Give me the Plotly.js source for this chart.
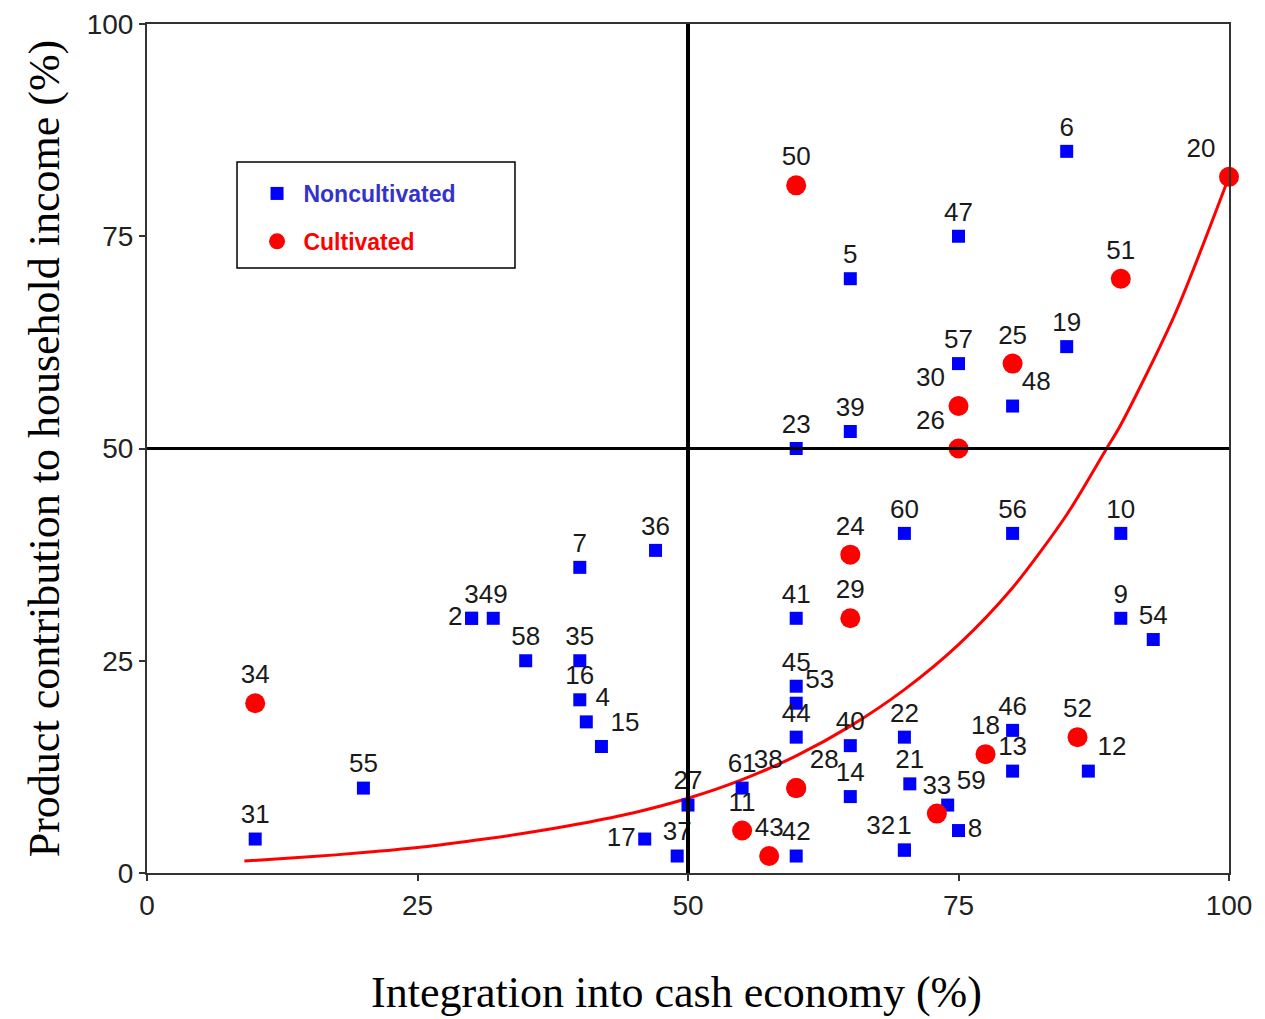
<!DOCTYPE html>
<html>
<head>
<meta charset="utf-8">
<script src="https://cdn.plot.ly/plotly-3.0.1.min.js"></script>
<style>html,body{margin:0;padding:0;background:#fff;}#chart{width:1265px;height:1019px;}</style>
</head>
<body>
<div id="chart"></div>
<script>
// Noncultivated products (blue squares)
const nonIds = ['31','55','2','3','49','58','7','35','16','4','15','36','17','37','27','61','45','53','44','41','42','23','40','14','39','5','60','22','21','1','32','59','8','47','57','6','19','48','56','46','13','12','10','9','54'];
const nonX = [10,20,30,30,32,35,40,40,40,40.6,42,47,46,49,50,55,60,60,60,60,60,60,65,65,65,65,70,70,70.5,70,70,74,75,75,75,85,85,80,80,80,80,87,90,90,93];
const nonY = [4,10,30,30,30,25,36,25,20.4,17.8,14.9,38,4,2,8,10,22,20,16,30,2,50,15,9,52,70,40,16,10.5,2.7,2.7,8,5,75,60,85,62,55,40,16.8,12,12,40,30,27.5];
const nonLabelPos = ['top center','top center','middle left','top center','top center','top center','top center','top center','top center','top right','top right','top center','middle left','top center','top center','top center','top center','top right','top center','top center','top center','top center','top center','top center','top center','top center','top center','top center','top center','top center','top left','top right','middle right','top center','top center','top center','top center','top right','top center','top center','top center','top right','top center','top center','top center'];

// Cultivated products (red circles)
const culIds = ['34','50','20','51','25','30','26','24','29','38','28','11','43','33','18','52'];
const culX = [10,60,100,90,80,75,75,65,65,60,60,55,57.5,73,77.5,86];
const culY = [20,81,82,70,60,55,50,37.5,30,10,10,5,2,7,14,16];
const culLabelPos = ['top center','top center','top left','top center','top center','top left','top left','top center','top center','top left','top right','top center','top center','top center','top center','top center'];

// Fitted trend curve
const curveX = [9,15,20,25,30,35,40,45,50,55,60,65,70,75,80,85,88.5,90,95,100];
const curveY = [1.4,1.9,2.4,3.0,3.8,4.7,5.8,7.1,8.8,11.0,13.8,17.3,21.6,26.9,33.6,42.2,49.6,52.8,65.8,82];

// Axis ticks, titles and quadrant dividers
const tickVals = [0,25,50,75,100];
const xTitle = 'Integration into cash economy (%)';
const yTitle = 'Product contribution to household income (%)';
const dividerX = 50, dividerY = 50;

const labelFont = {family:'"Liberation Sans", Arial, sans-serif', size:26, color:'#1a1a1a'};
const titleFont = {family:'"Liberation Serif", "Times New Roman", serif', size:44, color:'#000'};

const traces = [
  {
    x: curveX, y: curveY, type:'scatter', mode:'lines', line:{color:'#ff0000', width:3, shape:'spline', smoothing:0.8},
    showlegend:false, hoverinfo:'skip'
  },
  {
    x: nonX, y: nonY, text: nonIds, textposition: nonLabelPos, type:'scatter', mode:'markers+text',
    name:'<span style="color:#3333cc"><b>\u00a0Noncultivated</b></span>', legendgroup:'a',
    marker:{symbol:'square', size:13, color:'#0000ff'}, textfont: labelFont, cliponaxis:false
  },
  {
    x: culX, y: culY, text: culIds, textposition: culLabelPos, type:'scatter', mode:'markers+text',
    name:'<span style="color:#ff0000"><b>\u00a0Cultivated</b></span>', legendgroup:'b',
    marker:{symbol:'circle', size:20, color:'#ff0000'}, textfont: labelFont, cliponaxis:false
  }
];

const axisCommon = {
  range:[0,100], tickvals: tickVals, ticktext: tickVals.map(String), showgrid:false, zeroline:false,
  showline:true, mirror:true, linecolor:'#333', linewidth:2,
  ticks:'outside', ticklen:6, tickwidth:1.5, tickcolor:'#333',
  tickfont:{family:'"Liberation Sans", Arial, sans-serif', size:28, color:'#222'}
};

const layout = {
  width:1265, height:1019,
  margin:{l:147, r:36, t:24, b:146},
  paper_bgcolor:'#fff', plot_bgcolor:'#fff',
  xaxis: Object.assign({}, axisCommon),
  yaxis: Object.assign({}, axisCommon, {
    title:{text: yTitle, font:titleFont, standoff:13}
  }),
  annotations:[
    {text: xTitle, xref:'paper', yref:'paper', x:0.489, y:-0.1413, xanchor:'center', yanchor:'middle', showarrow:false, font:titleFont}
  ],
  showlegend:true,
  legend:{
    x:0.1017, y:0.8257, xanchor:'left', yanchor:'top', bgcolor:'rgba(0,0,0,0)', borderwidth:0,
    traceorder:'grouped', tracegroupgap:15,
    font:{family:'"Liberation Sans", Arial, sans-serif', size:23}
  },
  shapes:[
    {type:'line', xref:'x', yref:'paper', x0:dividerX, x1:dividerX, y0:0, y1:1, line:{color:'#000', width:4}},
    {type:'line', xref:'paper', yref:'y', x0:0, x1:1, y0:dividerY, y1:dividerY, line:{color:'#000', width:3}},
    {type:'rect', xref:'paper', yref:'paper', x0:0.0832, x1:0.3401, y0:0.7126, y1:0.8375, line:{color:'#000', width:1.5}, fillcolor:'rgba(0,0,0,0)'}
  ]
};

Plotly.newPlot('chart', traces, layout, {displayModeBar:false, responsive:false});
</script>
</body>
</html>
